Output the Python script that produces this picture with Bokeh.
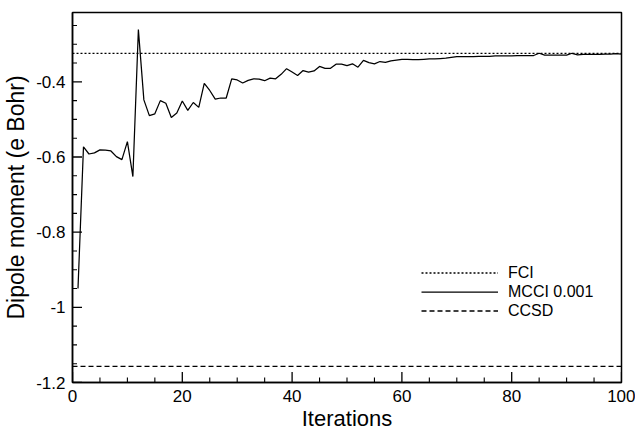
import math
from bokeh.plotting import figure
from bokeh.models import Range1d, FixedTicker, Legend, LegendItem
from bokeh.embed import file_html
from bokeh.resources import INLINE

# ---- data ----
iterations = list(range(1, 101))
mcci = [-0.950, -0.573, -0.592, -0.589, -0.581, -0.582, -0.584, -0.599, -0.607, -0.559,
        -0.652, -0.261, -0.448, -0.490, -0.485, -0.450, -0.457, -0.495, -0.483, -0.451,
        -0.476, -0.455, -0.468, -0.404, -0.423, -0.446, -0.443, -0.443, -0.392, -0.395,
        -0.403, -0.396, -0.392, -0.393, -0.397, -0.390, -0.392, -0.380, -0.365, -0.374,
        -0.383, -0.370, -0.374, -0.371, -0.359, -0.364, -0.364, -0.353, -0.353, -0.357,
        -0.352, -0.361, -0.343, -0.349, -0.352, -0.346, -0.348, -0.344, -0.342, -0.340,
        -0.340, -0.341, -0.341, -0.340, -0.339, -0.339, -0.338, -0.337, -0.335, -0.333,
        -0.333, -0.333, -0.333, -0.332, -0.332, -0.332, -0.331, -0.331, -0.331, -0.331,
        -0.330, -0.330, -0.330, -0.330, -0.324, -0.329, -0.329, -0.329, -0.329, -0.329,
        -0.324, -0.328, -0.327, -0.327, -0.327, -0.327, -0.326, -0.326, -0.325, -0.326]
fci_value = -0.324
ccsd_value = -1.157
ref_x = [0, 100]

x_min, x_max = 0, 100
y_min, y_max = -1.2, -0.2155

x_ticks = [0, 20, 40, 60, 80, 100]
x_minor = [5, 10, 15, 25, 30, 35, 45, 50, 55, 65, 70, 75, 85, 90, 95]
y_ticks = [-1.2, -1.0, -0.8, -0.6, -0.4]
y_tick_labels = ["-1.2", "-1", "-0.8", "-0.6", "-0.4"]
y_minor = [-1.15, -1.1, -1.05, -0.95, -0.9, -0.85, -0.75, -0.7, -0.65,
           -0.55, -0.5, -0.45, -0.35, -0.3, -0.25]

FONT = "Liberation Sans"

p = figure(width=635, height=433, output_backend="svg", toolbar_location=None,
           x_range=Range1d(x_min, x_max), y_range=Range1d(y_min, y_max),
           min_border_left=72, min_border_right=14, min_border_top=12, min_border_bottom=51,
           x_axis_label="Iterations", y_axis_label="Dipole moment (e Bohr)")
p.xgrid.visible = False
p.ygrid.visible = False
p.outline_line_color = "black"
p.outline_line_width = 1.5
p.outline_line_alpha = 1.0

p.xaxis.ticker = FixedTicker(ticks=x_ticks, minor_ticks=[])
p.yaxis.ticker = FixedTicker(ticks=y_ticks, minor_ticks=[])
p.yaxis.major_label_overrides = {t: l for t, l in zip(y_ticks, y_tick_labels)}

for ax in (p.xaxis, p.yaxis):
    ax.axis_line_color = "black"
    ax.axis_line_width = 1.5
    ax.major_tick_in = 0
    ax.major_tick_out = 0
    ax.minor_tick_in = 0
    ax.minor_tick_out = 0
    ax.major_label_text_font = FONT
    ax.major_label_text_font_size = "17px"
    ax.major_label_text_color = "black"
    ax.axis_label_text_font = FONT
    ax.axis_label_text_font_style = "normal"
    ax.axis_label_text_color = "black"
p.xaxis.axis_label_text_font_size = "22px"
p.yaxis.axis_label_text_font_size = "23px"
p.xaxis.major_label_standoff = 7
p.xaxis.axis_label_standoff = 1
p.yaxis.major_label_standoff = 7
p.yaxis.axis_label_standoff = 4

# inward tick marks (half of each dash is clipped by the frame)
p.scatter(x_ticks, [y_min] * len(x_ticks), marker="dash", size=21, angle=math.pi / 2,
          line_color="black", line_width=1.3)
p.scatter(x_minor, [y_min] * len(x_minor), marker="dash", size=10, angle=math.pi / 2,
          line_color="black", line_width=1.1)
p.scatter([x_min] * len(y_ticks), y_ticks, marker="dash", size=19,
          line_color="black", line_width=1.3)
p.scatter([x_min] * len(y_minor), y_minor, marker="dash", size=9,
          line_color="black", line_width=1.1)

r_fci = p.line(ref_x, [fci_value, fci_value], line_color="black", line_width=1.3, line_dash="2 2")
r_mcci = p.line(iterations, mcci, line_color="black", line_width=1.25)
r_ccsd = p.line(ref_x, [ccsd_value, ccsd_value], line_color="black", line_width=1.3, line_dash="5 3")

legend = Legend(items=[LegendItem(label="FCI", renderers=[r_fci]),
                       LegendItem(label="MCCI 0.001", renderers=[r_mcci]),
                       LegendItem(label="CCSD", renderers=[r_ccsd])],
                location=(349, 62))
legend.padding = 0
legend.margin = 0
legend.spacing = 0
legend.border_line_alpha = 0
legend.background_fill_alpha = 0
legend.glyph_width = 77
legend.glyph_height = 19
legend.label_height = 19
legend.label_standoff = 10
legend.label_text_font = FONT
legend.label_text_font_size = "16px"
legend.label_text_color = "black"
p.add_layout(legend)

open("out.html", "w").write(file_html(p, INLINE))
